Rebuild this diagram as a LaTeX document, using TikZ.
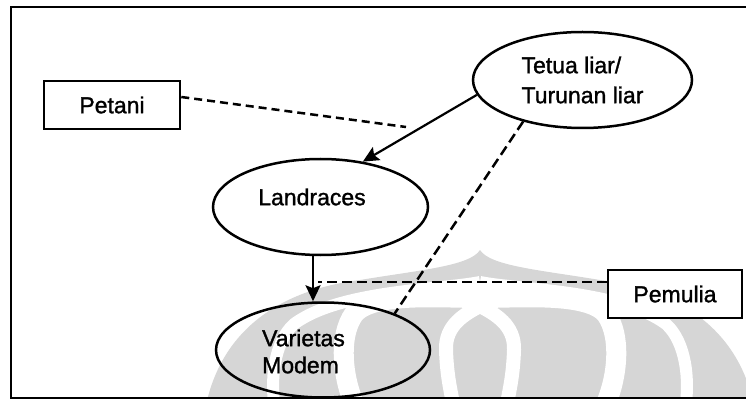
\documentclass[tikz,border=0pt]{standalone}
\usepackage{fontspec}
\setmainfont{Liberation Sans}
\newfontfamily\labelfont{Liberation Sans}[FakeBold=1.3]
\usetikzlibrary{shapes.geometric,arrows.meta}
\definecolor{markgray}{RGB}{214,214,214}
\begin{document}
\begin{tikzpicture}[x=1pt,y=-1pt,
  every node/.style={font=\labelfont\fontsize{23}{30}\selectfont},
  boxnode/.style={draw, line width=2.6pt, fill=white, minimum width=136pt,
    minimum height=48pt, inner sep=0pt},
  ovalnode/.style={draw, ellipse, line width=2.5pt, inner sep=0pt},
  solidarrow/.style={line width=2.2pt, -{Stealth[length=16pt,width=15pt,inset=3pt]}},
  dashline/.style={line width=2.5pt, dash pattern=on 10pt off 5pt},
  bandline/.style={draw=white, line width=#1}]
\useasboundingbox (0,0) rectangle (746,403);

% faint emblem in the background
\begin{scope}
  \clip (11,7) rectangle (746,398);
  \fill[markgray] (480,250) .. controls (490,266) and (540,270) .. (600,280)
    .. controls (680,290) and (740,330) .. (755,410) -- (205,410)
    .. controls (220,330) and (280,290) .. (360,280)
    .. controls (420,270) and (470,266) .. (480,250) -- cycle;
  \foreach \s in {1,-1}{
    \begin{scope}[shift={(480,0)}, xscale=\s]
      \draw[bandline=12pt] (0,282) .. controls (40,290) and (140,290) .. (186,324)
        .. controls (206,342) and (210,380) .. (205,410);
      \draw[bandline=20pt] (0,298) .. controls (40,298) and (108,292) .. (126,314)
        .. controls (142,336) and (138,380) .. (123,410);
      \draw[bandline=14pt] (0,306) .. controls (15,314) and (35,325) .. (34,350)
        .. controls (33,380) and (28,395) .. (26,410);
    \end{scope}}
\end{scope}

% frame
\draw[line width=2.8pt] (746,7) -- (11,7) -- (11,398) -- (746,398);

% boxes and ovals
\node[boxnode] (petani) at (112,105) {Petani};
\node[boxnode, minimum width=134pt] (pemulia) at (675,294) {Pemulia};
\node[ovalnode, minimum width=219pt, minimum height=96pt, align=left]
  (tetua) at (582.5,80) {Tetua liar/\\Turunan liar};
\node[ovalnode, minimum width=215pt, minimum height=96pt] (landraces) at (320.5,207) {};
\node (landracesLabel) at (312,197) {Landraces};
\node[ovalnode, minimum width=214pt, minimum height=95pt] (varietas) at (323,350) {};
\node[align=left, font=\labelfont\fontsize{23}{27}\selectfont] (varietasLabel)
  at (303.5,351.5) {Varietas\\Modem};

% free ends of the dashed links
\coordinate (petaniEnd) at (406,127);
\coordinate (pemuliaEnd) at (318,282);

% connectors
\draw[solidarrow] (tetua.188) -- (landraces.47);
\draw[solidarrow] ([xshift=-7.5pt]landraces.south) -- ([xshift=-10pt]varietas.north);
\draw[dashline, dash pattern=on 8pt off 5pt] ([yshift=8pt]petani.east) -- (petaniEnd);
\draw[dashline] (tetua.215) -- (varietas.27);
\draw[dashline] ([yshift=12pt]pemulia.west) -- (pemuliaEnd);
\end{tikzpicture}
\end{document}
